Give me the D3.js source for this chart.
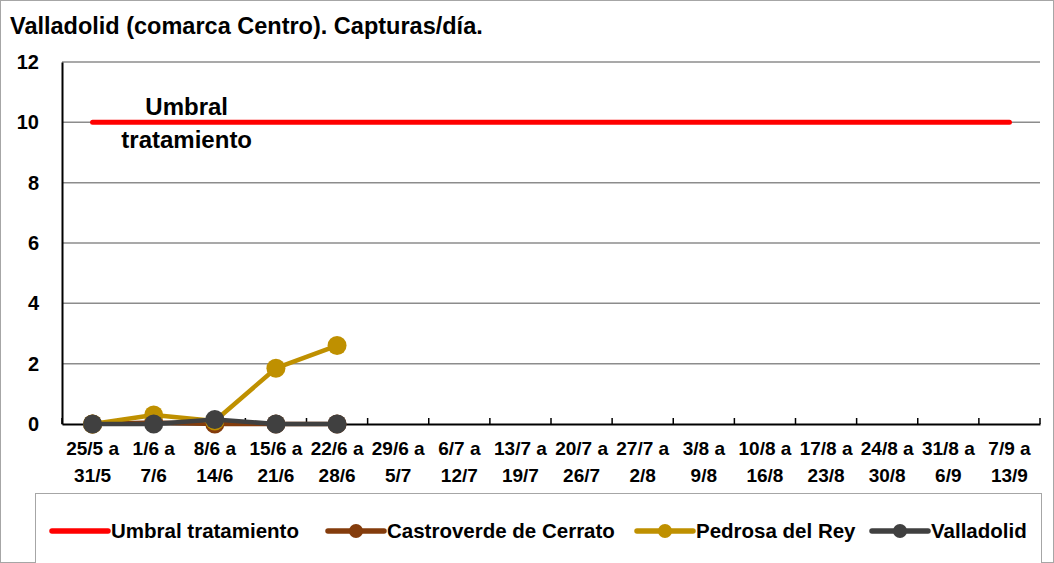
<!DOCTYPE html>
<html>
  <head>
    <meta charset="utf-8">
    <title>Valladolid (comarca Centro)</title>
    <script src="https://d3js.org/d3.v7.min.js"></script>
    <style>
      body { margin: 0; background: #fff; }
      svg text { font-family: "Liberation Sans", Arial, sans-serif; font-weight: bold; fill: #000; }
    </style>
  </head>
  <body>
    <svg id="chart" width="1054" height="563"></svg>
    <script>
      // chart data
      var weeks = ["25/5 a|31/5", "1/6 a|7/6", "8/6 a|14/6", "15/6 a|21/6", "22/6 a|28/6", "29/6 a|5/7",
        "6/7 a|12/7", "13/7 a|19/7", "20/7 a|26/7", "27/7 a|2/8", "3/8 a|9/8", "10/8 a|16/8",
        "17/8 a|23/8", "24/8 a|30/8", "31/8 a|6/9", "7/9 a|13/9"];
      var umbral = [10, 10, 10, 10, 10, 10, 10, 10, 10, 10, 10, 10, 10, 10, 10, 10];
      var castroverde = [0, 0.05, 0, 0, 0];
      var pedrosa = [0, 0.3, 0.1, 1.85, 2.6];
      var valladolid = [0, 0, 0.15, 0, 0];
      var yTicks = [0, 2, 4, 6, 8, 10, 12];

      var series = [
        { name: "Umbral tratamiento", values: umbral, color: "#ff0000", marker: false },
        { name: "Castroverde de Cerrato", values: castroverde, color: "#843c0c", marker: true },
        { name: "Pedrosa del Rey", values: pedrosa, color: "#bf9000", marker: true },
        { name: "Valladolid", values: valladolid, color: "#404040", marker: true }
      ];

      var svg = d3.select("#chart");
      var margin = { top: 62, right: 14, bottom: 139, left: 62 };
      var width = 1054, height = 563;

      // outer frame
      svg.append("rect")
        .attr("x", 0.5).attr("y", 0.5)
        .attr("width", width - 1).attr("height", height - 1)
        .attr("fill", "#fff").attr("stroke", "#a6a6a6");

      svg.append("text")
        .attr("x", 10).attr("y", 34)
        .style("font-size", "23.5px")
        .text("Valladolid (comarca Centro). Capturas/día.");

      var x = d3.scaleBand()
        .domain(d3.range(weeks.length))
        .range([margin.left, width - margin.right]);
      var y = d3.scaleLinear()
        .domain([0, 12])
        .range([height - margin.bottom, margin.top]);

      // gridlines
      svg.append("g")
        .selectAll("line")
        .data(yTicks.filter(function(d) { return d > 0; }))
        .join("line")
          .attr("x1", margin.left).attr("x2", width - margin.right)
          .attr("y1", function(d) { return y(d); }).attr("y2", function(d) { return y(d); })
          .attr("stroke", "#8c8c8c").attr("stroke-width", 1.5);

      var yAxis = d3.axisLeft(y).tickValues(yTicks).tickSize(0).tickPadding(23);
      var yAxisGroup = svg.append("g")
        .attr("transform", "translate(" + margin.left + ",0)")
        .call(yAxis);
      yAxisGroup.select(".domain").attr("stroke", "#000").attr("stroke-width", 2);
      yAxisGroup.selectAll("text").style("font-size", "20px");

      var xAxis = d3.axisBottom(x).tickSize(0).tickFormat("");
      var xAxisGroup = svg.append("g")
        .attr("transform", "translate(0," + y(0) + ")")
        .call(xAxis);
      xAxisGroup.select(".domain").attr("stroke", "#000").attr("stroke-width", 2);

      // category ticks between bands
      svg.append("g")
        .selectAll("line")
        .data(d3.range(weeks.length + 1))
        .join("line")
          .attr("x1", function(i) { return margin.left + i * x.step(); })
          .attr("x2", function(i) { return margin.left + i * x.step(); })
          .attr("y1", y(0)).attr("y2", y(0) - 6)
          .attr("stroke", "#000").attr("stroke-width", 1.5);

      // category labels on two lines
      var labels = svg.append("g")
        .selectAll("text")
        .data(weeks)
        .join("text")
          .attr("text-anchor", "middle")
          .style("font-size", "19px")
          .attr("transform", function(d, i) { return "translate(" + (x(i) + x.bandwidth() / 2) + "," + (y(0) + 31) + ")"; });
      labels.append("tspan").attr("x", 0).attr("dy", 0).text(function(d) { return d.split("|")[0]; });
      labels.append("tspan").attr("x", 0).attr("dy", 27).text(function(d) { return d.split("|")[1]; });

      var line = d3.line()
        .x(function(d, i) { return x(i) + x.bandwidth() / 2; })
        .y(function(d) { return y(d); });

      series.forEach(function(s) {
        svg.append("path")
          .attr("d", line(s.values))
          .attr("fill", "none")
          .attr("stroke", s.color)
          .attr("stroke-width", s.marker ? 4.5 : 5)
          .attr("stroke-linecap", "round")
          .attr("stroke-linejoin", "round");
        if (s.marker) {
          svg.append("g")
            .selectAll("circle")
            .data(s.values)
            .join("circle")
              .attr("cx", function(d, i) { return x(i) + x.bandwidth() / 2; })
              .attr("cy", function(d) { return y(d); })
              .attr("r", 9.5)
              .attr("fill", s.color);
        }
      });

      // threshold label
      var umbralLabel = svg.append("text")
        .attr("text-anchor", "middle")
        .attr("transform", "translate(" + (x(1) + x.bandwidth() / 2 + 33) + "," + (y(10) - 7) + ")")
        .style("font-size", "24px")
        .style("paint-order", "stroke")
        .attr("stroke", "#fff").attr("stroke-width", 3).attr("stroke-opacity", 0.8);
      umbralLabel.append("tspan").attr("x", 0).attr("dy", 0).text("Umbral");
      umbralLabel.append("tspan").attr("x", 0).attr("dy", 33).text("tratamiento");

      // legend
      svg.append("rect")
        .attr("x", 35.5).attr("y", 493.5)
        .attr("width", 1006).attr("height", 80)
        .attr("fill", "#fff").attr("stroke", "#a6a6a6");
      var legendX = [52, 328, 637, 872];
      var legend = svg.append("g")
        .selectAll("g")
        .data(series)
        .join("g")
          .attr("transform", function(d, i) { return "translate(" + legendX[i] + ",531)"; });
      legend.append("line")
        .attr("x1", 0).attr("x2", 56)
        .attr("stroke", function(d) { return d.color; })
        .attr("stroke-width", 5.5)
        .attr("stroke-linecap", "round");
      legend.filter(function(d) { return d.marker; })
        .append("circle")
          .attr("cx", 28).attr("r", 7)
          .attr("fill", function(d) { return d.color; });
      legend.append("text")
        .attr("x", 59).attr("dy", "0.35em")
        .style("font-size", "20.5px")
        .text(function(d) { return d.name; });
    </script>
  </body>
</html>
